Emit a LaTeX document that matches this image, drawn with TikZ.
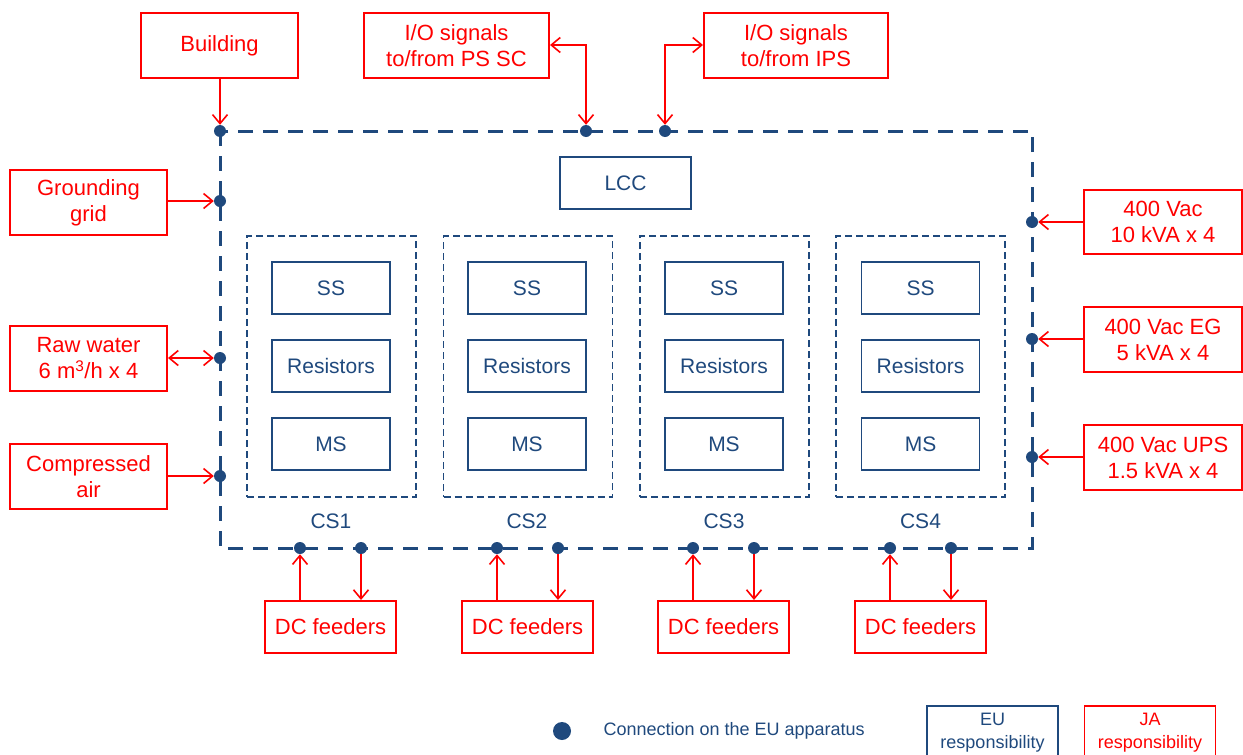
\documentclass[tikz,border=0pt]{standalone}
\usepackage{fontspec}
\setmainfont{Liberation Sans}
\usetikzlibrary{arrows.meta}
\definecolor{eublue}{RGB}{31,73,125}
\definecolor{jared}{RGB}{255,0,0}
\begin{document}
\begin{tikzpicture}[x=1pt,y=-1pt,
  jabox/.style={draw=jared,line width=2pt,text=jared,align=center,inner sep=0pt,font=\fontsize{22}{26}\selectfont},
  eubox/.style={draw=eublue,line width=1.6pt,text=eublue,align=center,inner sep=0pt,font=\fontsize{21}{26}\selectfont},
  csbox/.style={draw=eublue,line width=1.4pt,dash pattern=on 7pt off 4pt,minimum width=169,minimum height=261,inner sep=0pt},
  cslabel/.style={text=eublue,font=\fontsize{21}{26}\selectfont},
  frame/.style={draw=eublue,line width=3pt,dash pattern=on 15pt off 10pt},
  dot/.style={circle,fill=eublue,inner sep=0pt,minimum size=12pt},
  arr/.style={draw=jared,line width=1.6pt,-{Straight Barb[length=9pt,width=15pt,line width=1.6pt]}},
  darr/.style={draw=jared,line width=1.6pt,{Straight Barb[length=9pt,width=15pt,line width=1.6pt]}-{Straight Barb[length=9pt,width=15pt,line width=1.6pt]}},
  legtext/.style={text=eublue,font=\fontsize{18}{23}\selectfont}
]
\useasboundingbox (0,0) rectangle (1243,755);

% main frame
\draw[frame] (220,131) rectangle (1032,548);

% LCC
\node[eubox,minimum width=131,minimum height=52] (lcc) at (625.5,183) {LCC};

% CS blocks
\foreach \i/\cx/\sx in {1/331.5/331,2/528/527,3/724.5/724,4/920.5/920.5}{
  \node[csbox] (cs\i) at (\cx,366.5) {};
  \node[eubox,minimum width=118,minimum height=52] (ss\i) at (\sx,288) {SS};
  \node[eubox,minimum width=118,minimum height=52] (res\i) at (\sx,366) {Resistors};
  \node[eubox,minimum width=118,minimum height=52] (ms\i) at (\sx,444) {MS};
  \node[cslabel] (csl\i) at (\sx,521) {CS\i};
}

% dots
\node[dot] (dbld) at (220,131) {};
\node[dot] (dps) at (586,131) {};
\node[dot] (dips) at (665,131) {};
\node[dot] (dgr) at (220,201) {};
\node[dot] (draw) at (220,358) {};
\node[dot] (dair) at (220,476) {};
\node[dot] (dv1) at (1032,222) {};
\node[dot] (dv2) at (1032,339) {};
\node[dot] (dv3) at (1032,457) {};
\foreach \i/\a/\b in {1/300/361,2/497/558,3/693/754,4/890/951}{
  \node[dot] (dca\i) at (\a,548) {};
  \node[dot] (dcb\i) at (\b,548) {};
}

% JA boxes
\node[jabox,minimum width=157,minimum height=65] (bld) at (219.5,45.5) {Building};
\node[jabox,minimum width=185,minimum height=65] (iops) at (456.5,45.5) {I/O signals\\to/from PS SC};
\node[jabox,minimum width=184,minimum height=65] (ioips) at (796,45.5) {I/O signals\\to/from IPS};
\node[jabox,minimum width=157,minimum height=65] (gr) at (88.5,202.5) {Grounding\\grid};
\node[jabox,minimum width=157,minimum height=65] (rw) at (88.5,358.5) {Raw water\\6 m\textsuperscript{3}/h x 4};
\node[jabox,minimum width=157,minimum height=65] (air) at (88.5,476.5) {Compressed\\air};
\node[jabox,minimum width=158,minimum height=64] (v1) at (1163,222) {400 Vac\\10 kVA x 4};
\node[jabox,minimum width=158,minimum height=65] (v2) at (1163,339.5) {400 Vac EG\\5 kVA x 4};
\node[jabox,minimum width=158,minimum height=65] (v3) at (1163,457.5) {400 Vac UPS\\1.5 kVA x 4};
\foreach \i/\cx in {1/330.5,2/527.5,3/723.5,4/920.5}{
  \node[jabox,minimum width=131,minimum height=52] (dc\i) at (\cx,627) {DC feeders};
}

% connectors
\draw[arr] (bld.south -| dbld) -- (dbld);
\draw[darr] (iops.east |- 0,45) -| (dps);
\draw[darr] (ioips.west |- 0,45) -| (dips);
\draw[arr] (gr.east |- dgr) -- (dgr);
\draw[darr] (rw.east |- draw) -- (draw);
\draw[arr] (air.east |- dair) -- (dair);
\draw[arr] (v1.west |- dv1) -- (dv1);
\draw[arr] (v2.west |- dv2) -- (dv2);
\draw[arr] (v3.west |- dv3) -- (dv3);
\foreach \i in {1,2,3,4}{
  \draw[arr] (dc\i.north -| dca\i) -- (dca\i);
  \draw[arr] (dcb\i) -- (dcb\i |- dc\i.north);
}

% legend
\node[circle,fill=eublue,inner sep=0pt,minimum size=18pt] (ldot) at (562,731) {};
\node[legtext,anchor=west] (ltext) at (600,731) {Connection on the EU apparatus};
\node[draw=eublue,line width=1.6pt,text=eublue,align=center,inner sep=0pt,font=\fontsize{18}{23}\selectfont,minimum width=131,minimum height=54,anchor=north] (leu) at (992.5,705) {EU\\responsibility};
\node[draw=jared,line width=1.6pt,text=jared,align=center,inner sep=0pt,font=\fontsize{18}{23}\selectfont,minimum width=131,minimum height=54,anchor=north] (lja) at (1150,705) {JA\\responsibility};
\end{tikzpicture}
\end{document}
